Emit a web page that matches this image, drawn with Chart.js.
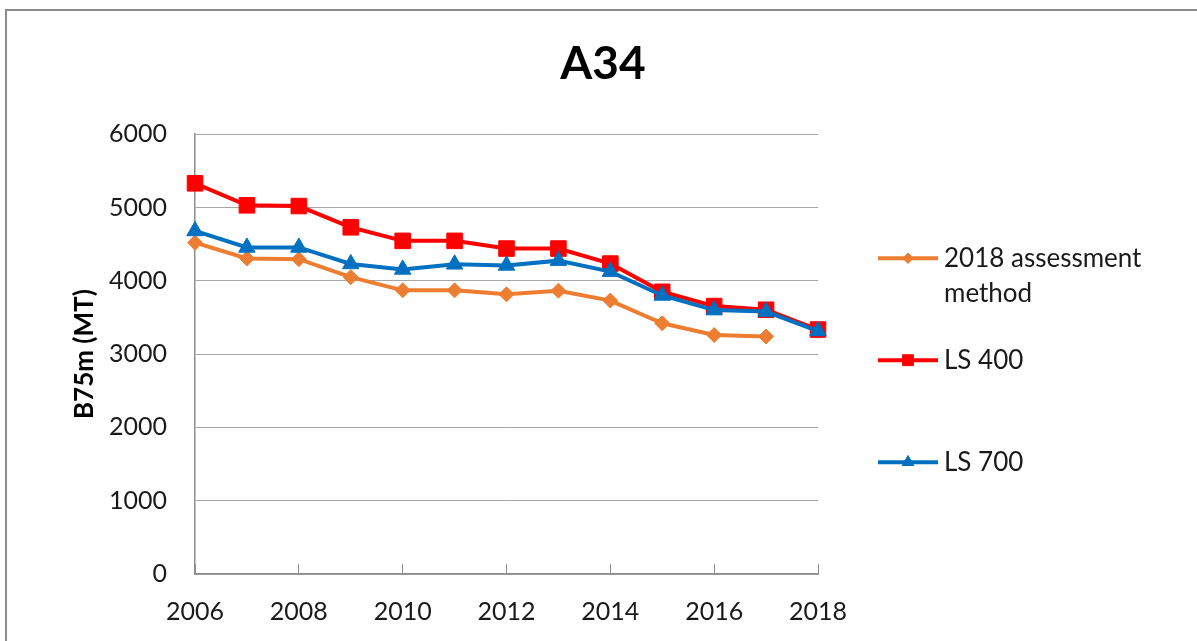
<!DOCTYPE html>
<html>
<head>
<meta charset="utf-8">
<title>A34</title>
<script src="https://cdn.jsdelivr.net/npm/chart.js@4.4.1/dist/chart.umd.min.js"></script>
<style>
  html, body { margin: 0; padding: 0; background: #fff; }
  #wrap { position: relative; width: 1197px; height: 641px; overflow: hidden; }
  #frame { position: absolute; left: 5px; top: 9px; right: -4px; bottom: -4px; border-left: 2px solid #8c8c8c; border-top: 2px solid #8c8c8c; }
  #a34Chart { position: absolute; left: 0; top: 0; }
</style>
</head>
<body>
<div id="wrap">
  <div id="frame"></div>
  <canvas id="a34Chart" width="1197" height="641"></canvas>
</div>
<script>
// values
const years = [2006, 2007, 2008, 2009, 2010, 2011, 2012, 2013, 2014, 2015, 2016, 2017, 2018];
const assessment2018 = [4520, 4305, 4295, 4050, 3870, 3870, 3815, 3865, 3730, 3420, 3260, 3240, null];
const ls400 = [5330, 5030, 5020, 4730, 4545, 4545, 4440, 4440, 4235, 3850, 3655, 3605, 3335];
const ls700 = [4680, 4455, 4455, 4230, 4155, 4225, 4210, 4275, 4125, 3800, 3600, 3580, 3315];
const seriesNames = ['2018 assessment method', 'LS 400', 'LS 700'];

const textColor = '#1a1a1a';
const axisGray = '#8c8c8c';

Chart.defaults.font.family = 'Lato';
Chart.defaults.color = textColor;

// legend drawn into the empty space kept free by the hidden right axis
const sideLegend = {
  id: 'sideLegend',
  afterDraw(chart) {
    const box = chart.scales.legendSpace;
    const ctx = chart.ctx;
    ctx.save();
    ctx.font = '26px Lato';
    ctx.textBaseline = 'middle';
    ctx.textAlign = 'left';
    chart.data.datasets.forEach((ds, i) => {
      const y = box.top + 124 + i * 102;
      const x0 = box.left + 60;
      ctx.strokeStyle = ds.borderColor;
      ctx.lineWidth = ds.borderWidth;
      ctx.beginPath();
      ctx.moveTo(x0, y);
      ctx.lineTo(x0 + 60, y);
      ctx.stroke();
      ctx.fillStyle = ds.pointBackgroundColor;
      ctx.lineWidth = 1;
      Chart.helpers.drawPoint(ctx, { pointStyle: ds.pointStyle, radius: ds.pointRadius * 0.7, rotation: 0, borderWidth: 1 }, x0 + 30, y);

      // simple word wrap
      const maxW = box.right - (x0 + 66) - 8;
      const lines = [];
      let cur = '';
      ds.label.split(' ').forEach(w => {
        const test = cur ? cur + ' ' + w : w;
        if (cur && ctx.measureText(test).width > maxW) {
          lines.push(cur);
          cur = w;
        } else {
          cur = test;
        }
      });
      lines.push(cur);
      ctx.fillStyle = textColor;
      lines.forEach((ln, k) => ctx.fillText(ln, x0 + 66, y + k * 35));
    });
    ctx.restore();
  }
};

const ctx = document.getElementById('a34Chart').getContext('2d');
const a34Chart = new Chart(ctx, {
  type: 'line',
  data: {
    labels: years,
    datasets: [
      {
        label: seriesNames[0],
        data: assessment2018,
        borderColor: '#ED7D31',
        backgroundColor: '#ED7D31',
        pointBackgroundColor: '#ED7D31',
        pointBorderColor: '#ED7D31',
        pointStyle: 'rectRot',
        pointRadius: 7.5,
        pointBorderWidth: 1,
        borderWidth: 4,
        order: 2
      },
      {
        label: seriesNames[1],
        data: ls400,
        borderColor: '#FF0000',
        backgroundColor: '#FF0000',
        pointBackgroundColor: '#FF0000',
        pointBorderColor: '#FF0000',
        pointStyle: 'rect',
        pointRadius: 11,
        pointBorderWidth: 1,
        borderWidth: 4,
        order: 1
      },
      {
        label: seriesNames[2],
        data: ls700,
        borderColor: '#0070C0',
        backgroundColor: '#0070C0',
        pointBackgroundColor: '#0070C0',
        pointBorderColor: '#0070C0',
        pointStyle: 'triangle',
        pointRadius: 9.5,
        pointBorderWidth: 1,
        borderWidth: 4,
        order: 0
      }
    ]
  },
  options: {
    responsive: false,
    animation: false,
    devicePixelRatio: 1,
    events: [],
    clip: false,
    layout: {
      padding: { left: 9, right: 0, top: 0, bottom: 0 }
    },
    plugins: {
      legend: { display: false },
      tooltip: { enabled: false },
      title: {
        display: true,
        text: 'A34',
        color: '#000',
        font: { size: 46, weight: 'bold', lineHeight: 1.2 },
        padding: { top: 37, bottom: 42 }
      }
    },
    scales: {
      x: {
        type: 'linear',
        min: 2006,
        max: 2018,
        ticks: {
          stepSize: 2,
          padding: 33,
          color: textColor,
          font: { size: 25 },
          callback: v => String(v)
        },
        grid: {
          drawOnChartArea: false,
          drawTicks: true,
          tickLength: -10,
          color: axisGray
        },
        border: { color: axisGray, width: 1.5 },
        afterFit(scale) { scale.height = 67; }
      },
      y: {
        min: 0,
        max: 6000,
        ticks: {
          stepSize: 1000,
          padding: 28,
          color: textColor,
          font: { size: 25 },
          callback: v => String(v)
        },
        grid: { color: '#a6a6a6', lineWidth: 1, drawTicks: false },
        border: { color: axisGray, width: 1.5 },
        title: {
          display: true,
          text: 'B75m (MT)',
          color: '#000',
          font: { size: 26, weight: 'bold' },
          padding: { top: 60, bottom: 0 }
        },
        afterFit(scale) { scale.width = 186; }
      },
      legendSpace: {
        type: 'linear',
        position: 'right',
        display: true,
        grid: { display: false, drawTicks: false },
        border: { display: false },
        ticks: { display: false },
        afterFit(scale) { scale.width = 379; }
      }
    }
  },
  plugins: [sideLegend]
});
</script>
</body>
</html>
